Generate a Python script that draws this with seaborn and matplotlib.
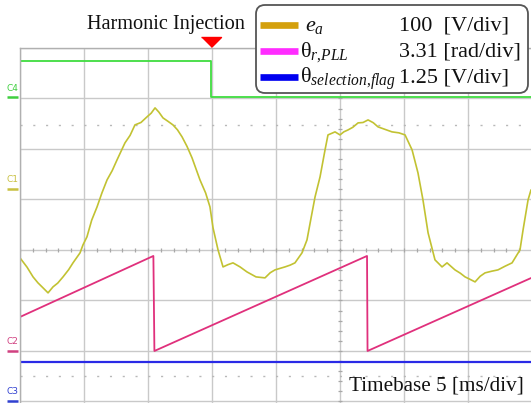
import matplotlib
matplotlib.use("Agg")
import numpy as np
import pandas as pd
import seaborn as sns
import matplotlib.pyplot as plt
from matplotlib.patches import FancyBboxPatch
from matplotlib.lines import Line2D

# ---------------------------------------------------------------- data
# CH1: phase back-EMF e_a [V] versus time [ms]
t_ea = [0.00, 0.55, 1.02, 1.40, 1.80, 2.19, 2.58, 2.95, 3.36, 3.80, 4.14, 4.69,
        4.92, 5.23, 5.60, 6.02, 6.40, 6.80, 7.20, 7.58, 8.20, 8.60, 8.98, 9.45,
        9.92, 10.25, 10.55, 10.85, 11.17, 11.55, 11.95, 12.30, 12.66, 13.05,
        13.44, 14.06, 14.50, 14.84, 15.08, 15.47, 15.86, 16.25, 16.64, 17.19,
        17.73, 18.44, 19.14, 19.55, 19.92, 20.70, 21.10, 21.48, 22.03, 22.42,
        22.75, 23.05, 23.44, 23.83, 24.06, 24.35, 24.61, 25.00, 25.30, 25.63,
        26.00, 26.41, 26.80, 27.19, 27.60, 27.97, 28.50, 29.06, 29.60, 30.08,
        30.63, 31.09, 31.48, 31.88, 32.42, 32.97, 33.36, 33.98, 34.40, 34.77,
        35.15, 35.55, 35.95, 36.33, 36.85, 37.34, 37.90, 38.44, 39.06, 39.30,
        39.69, 39.92]
v_ea = [-136.6, -155.0, -174.3, -186.0, -196.0, -205.9, -194.0, -186.5, -174.3,
        -160.0, -146.5, -126.7, -110.9, -95.0, -62.0, -35.6, -8.0, 17.8, 36.0,
        57.4, 91.1, 106.0, 126.7, 131.5, 142.6, 150.0, 160.4, 152.0, 140.6,
        134.0, 126.7, 117.0, 103.0, 84.0, 61.4, 17.8, -8.0, -35.6, -77.2,
        -120.8, -154.5, -150.0, -146.5, -154.5, -164.4, -174.3, -176.2, -166.0,
        -160.4, -154.5, -151.0, -146.5, -126.7, -101.0, -56.0, -15.8, 23.8,
        77.2, 106.9, 110.0, 112.9, 106.9, 113.0, 116.8, 122.0, 130.7, 131.5,
        136.6, 131.0, 122.8, 118.0, 112.9, 111.0, 106.9, 77.2, 31.7, -21.8,
        -87.1, -140.6, -154.5, -146.5, -160.4, -167.0, -174.3, -179.0, -184.2,
        -173.0, -166.3, -163.0, -160.4, -153.0, -146.5, -120.8, -81.2, -21.8,
        -2.0]

# CH2: PLL rotor angle theta_r [rad]
t_theta = [0.00, 10.42, 10.50, 27.11, 27.15, 39.92]
theta_pll = [2.23, 6.23, 0.00, 6.23, 0.00, 4.78]

# CH3: selection flag [V]
t_flag = [0.00, 39.92]
v_flag = [0.97, 0.97]

# CH4: harmonic-injection enable (level in divisions above its marker)
t_inj = 14.92
t_enable = [0.00, t_inj, t_inj, 39.92]
enable_div = [0.72, 0.72, 0.00, 0.00]

legend_names = ["$e_a$", "θ$_{r{,}PLL}$", "θ$_{selection{,}flag}$"]
legend_scales = ["100  [V/div]", "3.31 [rad/div]", "1.25 [V/div]"]
legend_colors = ["#d4a00c", "#ff2cff", "#0000f0"]

# channel settings: volts-or-rad per division and marker offset (divisions)
ch1_scale, ch1_off = 100.0, 1.21
ch2_scale, ch2_off = 3.31, -2.00
ch3_scale, ch3_off = 1.25, -2.99
ch4_off = 3.02

ms_per_div = 5.0
t_end = 39.92

# ---------------------------------------------------------------- style
sns.set_theme(style="white")
plt.rcParams["font.family"] = ["Liberation Serif", "DejaVu Serif"]
plt.rcParams["mathtext.fontset"] = "custom"
plt.rcParams["mathtext.rm"] = "Liberation Serif"
plt.rcParams["mathtext.it"] = "Liberation Serif:italic"
plt.rcParams["mathtext.bf"] = "Liberation Serif:bold"

W, H = 531, 403
fig = plt.figure(figsize=(W / 100, H / 100), dpi=100)
fig.patch.set_facecolor("white")
ax = fig.add_axes([20 / W, 0, (W - 20) / W, (H - 48) / H])
ax.set_facecolor("white")

ax.set_xlim(0, t_end)
ax.set_ylim(-3.03, 4.0)
ax.set_xticks(np.arange(0, t_end, ms_per_div))
ax.set_yticks(np.arange(-3, 5, 1))
ax.tick_params(length=0, labelbottom=False, labelleft=False)
ax.grid(True, color="#c9c9c9", lw=1.0)
for side in ("right", "bottom"):
    ax.spines[side].set_visible(False)
for side in ("left", "top"):
    ax.spines[side].set_color("#b0b0b0")
    ax.spines[side].set_linewidth(1.0)

# minor graticule ticks on the centre lines
t_center = 25.0
ax.vlines(np.arange(0, t_end, 1.0), -0.045, 0.045, color="#a8a8a8", lw=0.9)
ax.hlines(np.arange(-3, 4.01, 0.2), t_center - 0.18, t_center + 0.18,
          color="#a8a8a8", lw=0.9)
# dotted reference levels
for lvl in (2.48, -2.5):
    ax.axhline(lvl, color="#b8b8b8", lw=1.0, ls=(0, (1.5, 7.7)))

# ---------------------------------------------------------------- traces
df1 = pd.DataFrame({"t": t_ea, "y": np.array(v_ea) / ch1_scale + ch1_off})
df2 = pd.DataFrame({"t": t_theta, "y": np.array(theta_pll) / ch2_scale + ch2_off})
df3 = pd.DataFrame({"t": t_flag, "y": np.array(v_flag) / ch3_scale + ch3_off})
df4 = pd.DataFrame({"t": t_enable, "y": np.array(enable_div) + ch4_off})

kw = dict(x="t", y="y", ax=ax, estimator=None, sort=False, legend=False)
sns.lineplot(data=df4, color="#3fdc3f", lw=1.3, **kw)
sns.lineplot(data=df1, color="#c2c232", lw=1.2, **kw)
sns.lineplot(data=df2, color="#e0307c", lw=1.3, **kw)
sns.lineplot(data=df3, color="#2a2ae6", lw=1.6, **kw)

# channel markers at the left edge
ytrans = ax.get_yaxis_transform()
for name, off, col in (("C4", ch4_off, "#3fcf3f"), ("C1", ch1_off, "#c8c040"),
                       ("C2", ch2_off, "#d04080"), ("C3", ch3_off, "#3040d0")):
    ax.plot([-0.026, -0.003], [off, off], color=col, lw=1.8,
            transform=ytrans, clip_on=False, solid_capstyle="butt")
    ax.text(-0.015, off + 0.09, name, color=col, fontsize=6.5,
            family="DejaVu Sans", ha="center", va="bottom",
            transform=ytrans, clip_on=False)

# injection instant marker
ax.plot([t_inj], [4.218], marker=[(-1, 0), (1, 0), (0, -1)], ms=14.4,
        color="#ff0000", mec="#ff0000", clip_on=False, ls="none")

# ---------------------------------------------------------------- annotations (pixel overlay)
ov = fig.add_axes([0, 0, 1, 1], zorder=5)
ov.set_xlim(0, W)
ov.set_ylim(H, 0)
ov.axis("off")

ov.text(166, 25, "Harmonic Injection", fontsize=14.6, ha="center", va="center",
        color="#111111")
ov.text(349, 386, "Timebase 5 [ms/div]", fontsize=15.2, ha="left", va="center",
        color="#111111")

box = FancyBboxPatch((256, 5), 272, 88, boxstyle="round,pad=0,rounding_size=9",
                     fc="white", ec="#555555", lw=1.3)
ov.add_patch(box)
rows_y = [25, 51, 77]
base_y = [31, 57, 83]
name_x = [305, 300, 300]
for i in range(3):
    ov.add_line(Line2D([260, 298], [rows_y[i], rows_y[i]], color=legend_colors[i],
                       lw=4.8, solid_capstyle="butt"))
    ov.text(name_x[i], base_y[i], legend_names[i], fontsize=16, ha="left",
            va="baseline", color="#111111")
    ov.text(399, base_y[i], legend_scales[i], fontsize=16, ha="left",
            va="baseline", color="#111111")

fig.savefig("out.png", dpi=100, facecolor="white")
